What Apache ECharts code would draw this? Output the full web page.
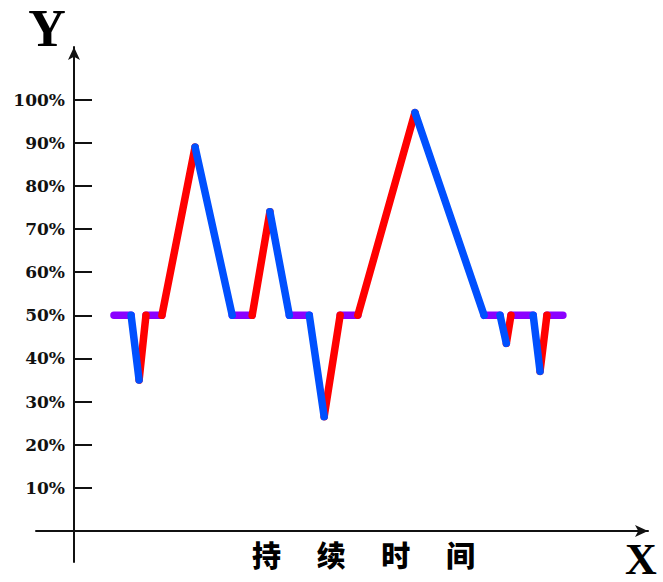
<!DOCTYPE html>
<html><head><meta charset="utf-8">
<script src="https://cdn.jsdelivr.net/npm/echarts@6/dist/echarts.min.js"></script>
<style>html,body{margin:0;padding:0;background:#fff}#c{width:663px;height:582px}</style>
</head><body><div id="c"></div>
<script>
// Path of the signal: time (arbitrary units) and level (%)
const times  = [7.0, 10.0, 11.4, 12.6, 15.4, 21.2, 27.7, 31.2, 34.3, 37.7, 41.2, 43.8, 46.6, 49.7, 59.7, 71.8, 74.6, 75.7, 76.5, 80.4, 81.6, 82.8, 85.6];
const levels = [50,   50,   35,   50,   50,   89,   50,   50,   74,   50,   50,   26.5, 50,   50,   97,   50,   50,   43.5, 50,   50,   37,   50,   50];
// Y axis tick values / labels
const yTickValues = [10, 20, 30, 40, 50, 60, 70, 80, 90, 100];
const yTickLabels = yTickValues.map(v => v + '%');
const yTitle = 'Y';
const xTitle = 'X';
const xAxisName = '持　 续　 时　 间';

const colorFlat = '#8B00FF', colorFall = '#0050FF', colorRise = '#FF0000';

function buildSegments(kind) {
  const out = [];
  for (let i = 0; i < times.length - 1; i++) {
    const d = levels[i + 1] - levels[i];
    const k = d === 0 ? 'flat' : (d < 0 ? 'fall' : 'rise');
    if (k !== kind) continue;
    if (out.length) out.push(['-', '-']);
    out.push([times[i], levels[i]], [times[i + 1], levels[i + 1]]);
  }
  return out;
}

function lineSeries(kind, color, z) {
  return {
    type: 'line', data: buildSegments(kind), showSymbol: false, connectNulls: false,
    z: z, silent: true,
    lineStyle: { color: color, width: 7.5, cap: 'round', join: 'round' },
    itemStyle: { color: color }
  };
}

const chart = echarts.init(document.getElementById('c'), null, { renderer: 'svg' });
const axisColor = '#111';
chart.setOption({
  animation: false,
  backgroundColor: '#fff',
  grid: { left: 36, right: 15, top: 47, bottom: 20, containLabel: false, outerBoundsMode: 'none' },
  xAxis: {
    type: 'value', min: -6.65, max: 100.5,
    axisLine: { show: true, onZero: true, symbol: ['none', 'arrow'], symbolSize: [9, 13], lineStyle: { color: axisColor, width: 2 } },
    axisTick: { show: false }, axisLabel: { show: false }, splitLine: { show: false }
  },
  yAxis: {
    type: 'value', min: -7.2, max: 112.2,
    axisLine: { show: true, onZero: true, symbol: ['none', 'arrow'], symbolSize: [9, 13], lineStyle: { color: axisColor, width: 2 } },
    axisTick: { show: true, inside: true, length: 18, customValues: yTickValues, lineStyle: { color: axisColor, width: 2 } },
    axisLabel: {
      customValues: yTickValues,
      formatter: v => yTickLabels[yTickValues.indexOf(v)] || '',
      margin: -29, fontFamily: 'DejaVu Serif', fontWeight: 'bold', fontSize: 17, color: axisColor
    },
    splitLine: { show: false }
  },
  graphic: [
    { type: 'text', x: 47, y: 28, style: { text: yTitle, font: 'bold 52px "Liberation Serif"', fill: '#000', textAlign: 'center', textVerticalAlign: 'middle' } },
    { type: 'text', x: 641, y: 559, style: { text: xTitle, font: 'bold 44px "Liberation Serif"', fill: '#000', textAlign: 'center', textVerticalAlign: 'middle' } },
    { type: 'text', x: 252, y: 554, style: { text: xAxisName, font: '900 29px "Noto Sans CJK SC"', fill: '#000', textAlign: 'left', textVerticalAlign: 'middle' } }
  ],
  series: [
    lineSeries('flat', colorFlat, 2),
    lineSeries('rise', colorRise, 3),
    lineSeries('fall', colorFall, 4)
  ]
});
</script></body></html>
